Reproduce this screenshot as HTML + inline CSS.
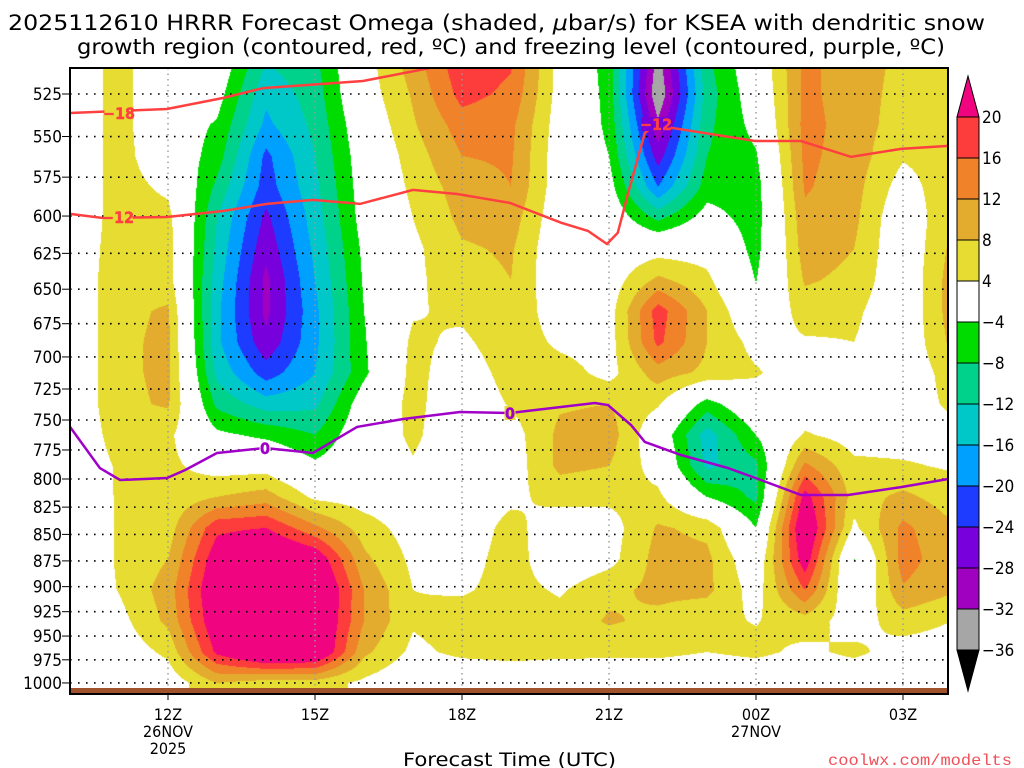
<!DOCTYPE html>
<html><head><meta charset="utf-8"><title>HRRR Omega KSEA</title>
<style>
html,body{margin:0;padding:0;background:#fff;}
#wrap{position:relative;width:1024px;height:768px;overflow:hidden;}
#field{position:absolute;left:70px;top:68px;}
#overlay{position:absolute;left:0;top:0;}
</style></head>
<body>
<div id="wrap">
<canvas id="field" width="878" height="626"></canvas>
<svg id="overlay" width="1024" height="768" xmlns="http://www.w3.org/2000/svg" font-family="'DejaVu Sans Condensed','Liberation Sans Narrow','Liberation Sans',sans-serif">
<g id="title" fill="#000" font-size="21">
<text x="8" y="30" textLength="977" lengthAdjust="spacingAndGlyphs">2025112610 HRRR Forecast Omega (shaded, <tspan font-style="italic">μ</tspan>bar/s) for KSEA with dendritic snow</text>
<text x="77" y="54" textLength="868" lengthAdjust="spacingAndGlyphs">growth region (contoured, red, ºC) and freezing level (contoured, purple, ºC)</text>
</g>
<g id="grid"></g>
<g id="lines"></g>
<rect x="70" y="688" width="878" height="6" fill="#a0522d"/>
<rect x="70" y="68" width="878" height="626" fill="none" stroke="#000" stroke-width="2"/>
<g id="yaxis" font-size="17"></g>
<g id="xaxis" font-size="16"></g>
<text x="403" y="766" font-size="19" textLength="213" lengthAdjust="spacingAndGlyphs">Forecast Time (UTC)</text>
<text x="828" y="765" font-size="16" fill="#f0505a" font-family="'Liberation Mono',monospace" textLength="184" lengthAdjust="spacingAndGlyphs">coolwx.com/modelts</text>
<g id="cbar" font-size="17"></g>
</svg>
</div>
<script>
// ---- data ----
const forecastHours = [0,1,2,3,4,5,6,7,8,9,10,11,12,13,14,15,16,17,18]; // hours after 10Z
const pressureLevels = [507.5,525,543.1,561.9,581.2,601.3,622.0,643.5,665.7,688.7,712.4,737.0,762.4,788.7,815.9,844.1,873.3,903.4,934.5,966.7,1000];
const omegaByLevel = [
[0,6,-1,0,-12,-9,2,10,19,16.5,2,-6,-34,-9,0,13,10,7,5],
[0,6,-1,-2,-15,-10,1.5,8.5,17.5,15,2,-5.5,-36,-10,-1,13,10,6.5,5],
[0,6,-1,-4.5,-17,-11,0,7.5,14,13,1.5,-5,-31,-9,-2.5,13.5,10,6,5],
[0,6,0,-6,-21,-12,-1,6,12,12.5,1,-4,-26,-8,-4.5,13,10,4.5,6],
[0,6,3,-9,-22,-13,-1.5,5,10,12,1,-2,-20,-6,-6,12.5,9.5,2,7],
[0,6,5.5,-12,-25,-14,-2,4,9,10,0.5,0,-9,-2,-6,11,9,0,8],
[0,6.5,6,-13,-27,-15,-3,3,7.5,8.5,0,1,2,2,-5.5,10,8,0,9],
[0,7,6,-14,-29,-16,-3.5,3,6.5,8,0,1.5,9,5,-4.2,8.5,7,0,10],
[0,7,8.5,-15,-29,-17,-4,3.5,5,8,0.5,2,18,8,-1,6,5,0,10],
[0,7,9,-15,-27,-17,-4.5,5,3,7,3,2,17,8,2.5,3.5,4,0,9],
[0,7,9,-13,-22,-16,-5,5.5,1,6,6,2.5,10,7,4.5,1,2,0.5,6],
[0,7,8.5,-9,-14,-13,-1,5.5,0,4.5,7.5,8,4.5,-6,1,1,0,1,5],
[0,6,5,-3,-5,-8,0,5,0,2,9,10,0,-14,-4,4.5,2,2,2],
[0,4.6,5,2,2,-3,0,3.5,0,1.5,9,8,2,-13,-9,13,5,4.5,3.5],
[0,4.5,5,8,10,3,2,1,1,3,5.5,5,5,-4,-9,22,6,9,6],
[0,4.5,6,19,20,13,6,2,1,5.5,1,2,8.5,7,-4,26,3,13,8.5],
[0,4.5,8,23,28,24,9,3,2,6,0.5,2.5,9.5,9,0,23,-4.3,14,9],
[0,4.2,10,25,30,28,12,4,3.5,5.5,3.5,7,9,9,2,16,-2,11.5,8.5],
[0,2.5,9,24,30,27,12,4.5,6,6,5.5,8.5,7,5,3.8,6,2,6,4],
[0,1,5,21,28,27,9,3,5,5.5,5,5,5,4,5,3,5,2,1.5],
[0,0,1,8,6,6,3,0,0,0.5,0.5,0,0,0,0,0,0,0,0]
];
const levelBounds = [-36,-32,-28,-24,-20,-16,-12,-8,-4,4,8,12,16,20];
const levelColors = ['#000000','#a6a6a6','#a000c0','#7800dc','#1e3cff','#00a0ff','#00c8c8','#00d28c','#00dc00','#ffffff','#e6dc32','#e4ac2e','#f0822a','#fd3c3c','#f0047f'];
const freezingHours = [0,0.61,1.02,1.98,2.35,3.0,3.98,4.96,5.86,6.8,7.96,8.98,10.71,10.98,11.45,11.73,12.47,13.43,14.1,14.92,15.88,16.96,17.92];
const freezingPress = [755.7,790.5,800.9,799.1,792.2,777.6,773.3,777.6,755.7,749.2,743.5,744.3,736.2,737.8,754.1,768.2,779.3,790.5,800.9,814.1,814.1,807.1,800.0];
const dgzMinus18Hours = [0,1.98,3.12,3.94,5.98,7.35];
const dgzMinus18Press = [536.0,533.7,527.3,521.6,517.6,510.3];
const dgzMinus12Hours = [0,0.67,1.98,3.12,4.02,4.96,5.92,7,7.9,8.98,10.02,10.57,10.96,11.18,11.39,11.73,11.96,12.27,13.98,14.92,15.94,16.96,17.92];
const dgzMinus12Press = [598.6,601.3,600.6,596.7,592.1,589.5,592.1,583.1,585.7,591.4,604.4,609.8,618.6,611.1,585.1,547.9,542.5,544.8,552.7,552.7,562.4,557.5,555.7];
const yTickLabels = [525,550,575,600,625,650,675,700,725,750,775,800,825,850,875,900,925,950,975,1000];
const xTickHours = [2,5,8,11,14,17];
const xTickLabels = ['12Z','15Z','18Z','21Z','00Z','03Z'];
const xDateLabels = ['26NOV','','','','27NOV',''];
const cbarLabels = ['20','16','12','8','4','−4','−8','−12','−16','−20','−24','−28','−32','−36'];

// ---- axis functions (log-pressure) ----
const X0=70, PXH=49, YK=914;
function xOf(h){return X0+h*PXH;}
function yOf(p){return 94+YK*Math.log(p/525);}
function pOf(y){return 525*Math.exp((y-94)/YK);}
const NS='http://www.w3.org/2000/svg';
function mk(tag,attrs,parent){const e=document.createElementNS(NS,tag);for(const k in attrs)e.setAttribute(k,attrs[k]);parent.appendChild(e);return e;}

// ---- shading ----
(function(){
  const cv=document.getElementById('field');const ctx=cv.getContext('2d');
  const W=cv.width,H=cv.height;const img=ctx.createImageData(W,H);
  const rgb=levelColors.map(c=>[parseInt(c.substr(1,2),16),parseInt(c.substr(3,2),16),parseInt(c.substr(5,2),16)]);
  const nr=pressureLevels.length,nc=forecastHours.length;
  const rowY=pressureLevels.map(yOf);
  for(let j=0;j<H;j++){
    const y=68+j+0.5;
    let r0=0; while(r0<nr-2&&y>rowY[r0+1])r0++;
    let fr=(y-rowY[r0])/(rowY[r0+1]-rowY[r0]); if(fr<0)fr=0; if(fr>1)fr=1;
    for(let i=0;i<W;i++){
      let h=(i+0.5)/PXH; if(h>nc-1)h=nc-1;
      const c0=Math.min(Math.floor(h),nc-2),fc=h-c0;
      const a=omegaByLevel[r0][c0],b=omegaByLevel[r0][c0+1],c=omegaByLevel[r0+1][c0],d=omegaByLevel[r0+1][c0+1];
      const v=a*(1-fr)*(1-fc)+b*(1-fr)*fc+c*fr*(1-fc)+d*fr*fc;
      let k=0; while(k<levelBounds.length&&v>=levelBounds[k])k++;
      const col=rgb[k];const o=(j*W+i)*4;
      img.data[o]=col[0];img.data[o+1]=col[1];img.data[o+2]=col[2];img.data[o+3]=255;
    }
  }
  ctx.putImageData(img,0,0);
})();

// ---- grid ----
const grid=document.getElementById('grid');
yTickLabels.forEach(p=>{
  const l=mk('line',{x1:70,x2:948,y1:yOf(p),y2:yOf(p),stroke:'#000','stroke-width':1.6,'stroke-dasharray':'1.6,6.4'},grid);
  
  
});
xTickHours.forEach(h=>{
  const l=mk('line',{x1:xOf(h),x2:xOf(h),y1:68,y2:694,stroke:'#999','stroke-width':1.4,'stroke-dasharray':'1.5,4'},grid);
  
  
});

// ---- contour lines ----
const lines=document.getElementById('lines');
function pathFrom(hs,ps){return hs.map((h,i)=>(i?'L':'M')+xOf(h).toFixed(1)+','+yOf(ps[i]).toFixed(1)).join(' ');}
const l18=mk('path',{d:pathFrom(dgzMinus18Hours,dgzMinus18Press),fill:'none',stroke:'#ff4040','stroke-width':2.5},lines);


const l12=mk('path',{d:pathFrom(dgzMinus12Hours,dgzMinus12Press),fill:'none',stroke:'#ff4040','stroke-width':2.5},lines);


const lf=mk('path',{d:pathFrom(freezingHours,freezingPress),fill:'none',stroke:'#a000c8','stroke-width':2.5},lines);


function clabel(txt,h,p,color,name,bgc){
  const x=xOf(h),y=yOf(p);
  const w=txt.length*9+2;
  const bg=mk('rect',{x:x-w/2,y:y-7,width:w,height:14,fill:bgc},lines);
  
  
  const t=mk('text',{x:x,y:y+6,'text-anchor':'middle','font-size':16,'font-weight':'bold',fill:color,stroke:color,'stroke-width':0.4},lines);
  t.textContent=txt;
  
  
}
clabel('−18',1.0,536,'#ff4040','label-minus18','#e6dc32');
clabel('−12',0.98,600.6,'#ff4040','label-minus12-left','#e6dc32');
clabel('−12',11.96,542.5,'#ff4040','label-minus12-right','#7800dc');
clabel('0',3.98,773.3,'#a000c8','label-freezing-left','#ffffff');
clabel('0',8.98,744.3,'#a000c8','label-freezing-right','#e6dc32');

// ---- y axis ----
const ya=document.getElementById('yaxis');
yTickLabels.forEach(p=>{
  const t=mk('text',{x:62,y:yOf(p)+6,'text-anchor':'end'},ya);
  t.textContent=p;
  
  
  const tk=mk('line',{x1:62,x2:70,y1:yOf(p),y2:yOf(p),stroke:'#000','stroke-width':1},ya);
  
  
});

// ---- x axis ----
const xa=document.getElementById('xaxis');
xTickHours.forEach((h,i)=>{
  const x=xOf(h);
  const tk=mk('line',{x1:x,x2:x,y1:694,y2:700,stroke:'#000','stroke-width':1},xa);
  
  
  const t=mk('text',{x:x,y:720,'text-anchor':'middle'},xa);
  t.textContent=xTickLabels[i];
  
  
  if(xDateLabels[i]){
    const d=mk('text',{x:x,y:737,'text-anchor':'middle'},xa);
    d.textContent=xDateLabels[i];
    
    
  }
});
const yr=mk('text',{x:xOf(2),y:754,'text-anchor':'middle'},xa);
yr.textContent='2025';



// ---- colorbar ----
const cb=document.getElementById('cbar');
const CBX=957,CBW=22,CBT=117,CBS=41.0;
const segColors=levelColors.slice(1,14).reverse();
segColors.forEach((c,i)=>{
  const r=mk('rect',{x:CBX,y:CBT+i*CBS,width:CBW,height:CBS,fill:c,stroke:'#000','stroke-width':1},cb);
  
  
});
const tt=mk('polygon',{points:`${CBX},${CBT} ${CBX+CBW},${CBT} ${CBX+CBW/2},${CBT-41}`,fill:levelColors[14],stroke:'#000','stroke-width':1},cb);


const bb=CBT+13*CBS;
const bt=mk('polygon',{points:`${CBX},${bb} ${CBX+CBW},${bb} ${CBX+CBW/2},${bb+41}`,fill:levelColors[0],stroke:'#000','stroke-width':1},cb);


cbarLabels.forEach((s,i)=>{
  const t=mk('text',{x:982,y:CBT+i*CBS+6},cb);
  t.textContent=s;
  
  
});
</script>
</body></html>
